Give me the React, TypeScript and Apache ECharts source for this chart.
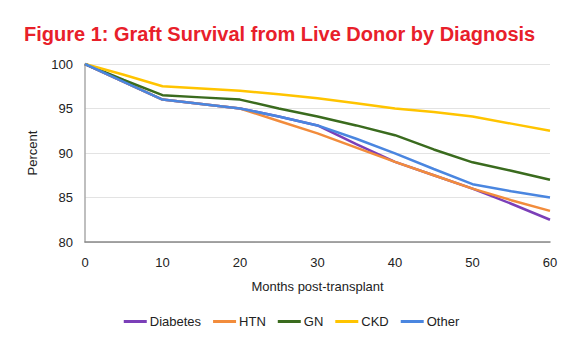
import React, { useEffect, useRef } from "react";
import * as echarts from "echarts";

const months = [0, 5, 10, 15, 20, 25, 30, 35, 40, 45, 50, 55, 60];
const diabetes = [100, 98.0, 96.0, 95.5, 95.0, 94.1, 93.1, 91.0, 89.0, 87.5, 86.0, 84.3, 82.5];
const htn = [100, 98.0, 96.0, 95.5, 95.0, 93.6, 92.2, 90.6, 89.0, 87.5, 86.0, 84.7, 83.5];
const gn = [100, 98.2, 96.5, 96.25, 96.0, 95.0, 94.1, 93.1, 92.0, 90.4, 88.95, 88.0, 87.0];
const ckd = [100, 98.8, 97.5, 97.25, 97.0, 96.6, 96.15, 95.6, 95.0, 94.6, 94.1, 93.3, 92.5];
const other = [100, 98.0, 96.0, 95.5, 95.0, 94.1, 93.1, 91.6, 89.95, 88.2, 86.5, 85.7, 85.0];

const seriesNames = ["Diabetes", "HTN", "GN", "CKD", "Other"];
const seriesValues = [diabetes, htn, gn, ckd, other];
const seriesColors = ["#7b3fb8", "#f28c3c", "#3a6b1e", "#ffc400", "#4a86e0"];

const FONT = "Arial, 'Liberation Sans', sans-serif";

export default function App() {
  const ref = useRef<HTMLDivElement>(null);
  useEffect(() => {
    if (!ref.current) return;
    const chart = echarts.init(ref.current, undefined, { renderer: "svg" });
    chart.setOption({
      animation: false,
      backgroundColor: "#ffffff",
      textStyle: { fontFamily: FONT },
      title: {
        text: "Figure 1: Graft Survival from Live Donor by Diagnosis",
        left: 19,
        top: 19,
        textStyle: { color: "#e8202a", fontSize: 20, fontWeight: "bold", fontFamily: FONT },
      },
      legend: {
        data: seriesNames,
        bottom: 22,
        left: "center",
        icon: "rect",
        itemWidth: 23,
        itemHeight: 3,
        itemGap: 12,
        textStyle: { color: "#222", fontSize: 13, fontFamily: FONT, padding: [0, 0, 0, -2] },
      },
      grid: { left: 85, right: 33, top: 64, bottom: 113 },
      xAxis: {
        type: "value",
        min: 0,
        max: 60,
        interval: 10,
        name: "Months post-transplant",
        nameLocation: "middle",
        nameGap: 38,
        nameTextStyle: { color: "#222", fontSize: 13, fontFamily: FONT },
        axisLine: { lineStyle: { color: "#888", width: 1.5 } },
        axisTick: { show: false },
        splitLine: { show: false },
        axisLabel: { color: "#222", fontSize: 13, margin: 14, fontFamily: FONT },
      },
      yAxis: {
        type: "value",
        min: 80,
        max: 100,
        interval: 5,
        name: "Percent",
        nameLocation: "middle",
        nameGap: 46,
        nameTextStyle: { color: "#222", fontSize: 13, fontFamily: FONT },
        axisLine: { show: true, lineStyle: { color: "#aaa", width: 1.5 } },
        axisTick: { show: false },
        splitLine: { lineStyle: { color: "#e3e3e3", width: 1 } },
        axisLabel: { color: "#222", fontSize: 13, margin: 12, fontFamily: FONT },
      },
      series: seriesNames.map((name, i) => ({
        name,
        type: "line",
        symbol: "none",
        smooth: false,
        data: months.map((m, j) => [m, seriesValues[i][j]]),
        lineStyle: { color: seriesColors[i], width: 2.5 },
        itemStyle: { color: seriesColors[i] },
      })),
    });
    return () => chart.dispose();
  }, []);
  return (
    <div
      ref={ref}
      style={{ position: "fixed", left: 0, top: 0, width: 583, height: 355, background: "#fff" }}
    />
  );
}
